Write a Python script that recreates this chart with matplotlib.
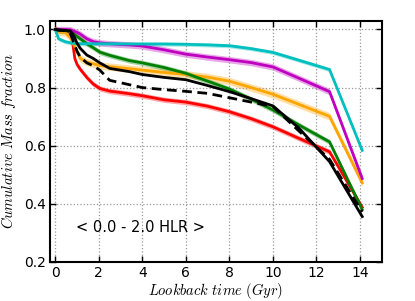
import matplotlib
matplotlib.use("Agg")
import matplotlib.pyplot as plt
import numpy as np

plt.rcParams['mathtext.fontset'] = 'cm'

# lookback time (Gyr)
age = [0, 0.15, 0.45, 0.7, 0.8, 0.9, 1.0, 1.15, 1.45, 1.75, 2.05, 2.5, 3.4, 4.0,
       5.0, 6.0, 7.0, 8.0, 9.0, 10.0, 11.2, 12.6, 14.1]

cyan_y = [1.0, 0.968, 0.958, 0.954, 0.953, 0.952, 0.952, 0.951, 0.951, 0.951, 0.951, 0.951,
          0.950, 0.950, 0.950, 0.949, 0.947, 0.944, 0.934, 0.921, 0.894, 0.862, 0.584]
magenta_y = [1.0, 1.0, 1.0, 0.999, 0.996, 0.993, 0.990, 0.984, 0.968, 0.958, 0.954, 0.951,
             0.947, 0.943, 0.930, 0.915, 0.905, 0.896, 0.886, 0.871, 0.832, 0.786, 0.487]
orange_y = [1.0, 0.992, 0.990, 0.972, 0.955, 0.940, 0.925, 0.900, 0.888, 0.882, 0.876, 0.872,
            0.865, 0.860, 0.852, 0.845, 0.836, 0.822, 0.800, 0.777, 0.742, 0.701, 0.472]
green_y = [1.0, 0.998, 0.996, 0.993, 0.990, 0.982, 0.976, 0.968, 0.951, 0.937, 0.922, 0.911,
           0.893, 0.885, 0.869, 0.849, 0.822, 0.795, 0.760, 0.723, 0.671, 0.613, 0.380]
red_y = [1.0, 0.998, 0.996, 0.990, 0.955, 0.900, 0.880, 0.863, 0.835, 0.812, 0.797, 0.788,
         0.779, 0.772, 0.758, 0.750, 0.736, 0.717, 0.693, 0.665, 0.625, 0.579, 0.388]
black_y = [1.0, 0.998, 0.997, 0.995, 0.985, 0.970, 0.953, 0.935, 0.912, 0.900, 0.885, 0.866,
           0.855, 0.845, 0.835, 0.827, 0.807, 0.786, 0.762, 0.737, 0.660, 0.545, 0.356]
dashed_y = [1.0, 0.998, 0.996, 0.985, 0.965, 0.945, 0.925, 0.905, 0.885, 0.875, 0.860, 0.825,
            0.810, 0.800, 0.793, 0.787, 0.780, 0.765, 0.750, 0.735, 0.650, 0.553, 0.372]

# uncertainty half-widths
cyan_err = 0.007
magenta_err = 0.011
orange_err = 0.013
green_err = 0.009
red_err = 0.009

label_text = "< 0.0 - 2.0 HLR >"
xticks = [0, 2, 4, 6, 8, 10, 12, 14]
yticks = [0.2, 0.4, 0.6, 0.8, 1.0]

fig = plt.figure(figsize=(4.15, 3.01), dpi=100)
ax = fig.add_axes([0.12, 0.13, 0.80, 0.801])

x = np.array(age)
bands = [(red_y, red_err, 'red'), (orange_y, orange_err, 'orange'),
         (green_y, green_err, 'green'), (magenta_y, magenta_err, 'm'),
         (cyan_y, cyan_err, 'c')]
for yv, e, col in bands:
    yv = np.array(yv)
    ax.fill_between(x, yv - e, yv + e, color=col, alpha=0.35, lw=0)
    ax.plot(x, yv, color=col, lw=2)

ax.plot(x, black_y, color='k', lw=2)
ax.plot(x, dashed_y, color='k', lw=2, ls='--', dashes=(3.5, 2))

ax.set_xlim(-0.25, 15)
ax.set_ylim(0.2, 1.03)
ax.set_xticks(xticks)
ax.set_yticks(yticks)
ax.tick_params(direction='in', top=True, right=True, labelsize=10, length=4, width=1, pad=3)
for s in ax.spines.values():
    s.set_linewidth(1.5)
ax.grid(True, color='0.6', ls=':', lw=0.9)

ax.set_xlabel(r'$Lookback\ time\ (Gyr)$', fontsize=10.5, labelpad=1)
ax.set_ylabel(r'$Cumulative\ Mass\ fraction$', fontsize=10.5, labelpad=4)
ax.text(3.9, 0.317, label_text, fontsize=10.5, ha='center', va='center')

fig.savefig('out.png', dpi=100)
